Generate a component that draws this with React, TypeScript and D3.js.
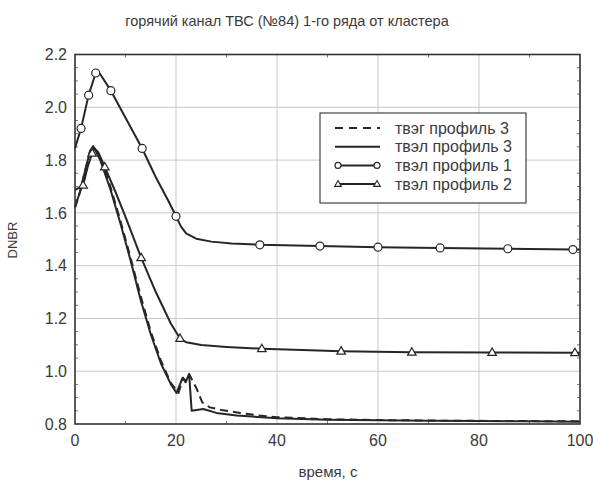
import React from "react";
import * as d3 from "d3";

const TITLE = "горячий канал ТВС (№84) 1-го ряда от кластера";
const X_LABEL = "время, с";
const Y_LABEL = "DNBR";
const X_TICKS = [0, 20, 40, 60, 80, 100];
const Y_TICKS = [0.8, 1.0, 1.2, 1.4, 1.6, 1.8, 2.0, 2.2];
const LEGEND_LABELS = ["твэг профиль 3", "твэл профиль 3", "твэл профиль 1", "твэл профиль 2"];

// твэг профиль 3 (dashed)
const cladTime = [0, 1, 2, 3, 3.7, 5, 7, 9, 11, 13, 15, 17, 19, 20.5, 21.4, 22, 22.7, 24.1, 25.2, 26.7, 29, 32.7, 36, 40, 50, 60, 70, 80, 90, 100];
const cladDnbr = [1.62, 1.68, 1.76, 1.835, 1.85, 1.81, 1.70, 1.57, 1.43, 1.285, 1.15, 1.04, 0.955, 0.918, 0.975, 0.962, 0.986, 0.933, 0.882, 0.863, 0.853, 0.842, 0.833, 0.826, 0.818, 0.815, 0.813, 0.812, 0.811, 0.81];

// твэл профиль 3 (solid)
const fuel3Time = [0, 1, 2, 3, 3.6, 5, 7, 9, 11, 13, 15, 17, 19, 20.1, 21.3, 21.9, 22.6, 23.1, 25.4, 28, 32, 40, 50, 60, 70, 80, 90, 100];
const fuel3Dnbr = [1.622, 1.68, 1.76, 1.835, 1.853, 1.80, 1.69, 1.56, 1.42, 1.27, 1.14, 1.03, 0.95, 0.918, 0.975, 0.958, 0.99, 0.85, 0.857, 0.842, 0.832, 0.822, 0.816, 0.814, 0.812, 0.811, 0.81, 0.809];

// твэл профиль 1 (circles)
const fuel1Time = [0, 1.2, 2.7, 4.1, 5, 7.1, 10, 13.3, 16, 18.5, 20, 21, 22, 24, 27, 31, 36.6, 48.5, 60, 72.3, 85.7, 98.6, 100];
const fuel1Dnbr = [1.845, 1.92, 2.046, 2.13, 2.125, 2.063, 1.96, 1.844, 1.735, 1.645, 1.587, 1.548, 1.522, 1.502, 1.491, 1.484, 1.479, 1.474, 1.470, 1.467, 1.464, 1.461, 1.461];
const fuel1MarkTime = [1.2, 2.7, 4.1, 7.1, 13.3, 20, 36.6, 48.5, 60, 72.3, 85.7, 98.6];
const fuel1MarkDnbr = [1.92, 2.046, 2.13, 2.063, 1.844, 1.587, 1.479, 1.474, 1.470, 1.467, 1.464, 1.461];

// твэл профиль 2 (triangles)
const fuel2Time = [0, 1.6, 2.6, 3.4, 3.8, 4.6, 5.9, 8, 10, 13.1, 16, 19, 20.8, 22, 25, 30, 37, 45, 52.7, 66.7, 82.6, 99, 100];
const fuel2Dnbr = [1.686, 1.705, 1.78, 1.826, 1.845, 1.83, 1.774, 1.68, 1.585, 1.43, 1.30, 1.18, 1.124, 1.11, 1.099, 1.092, 1.085, 1.08, 1.076, 1.072, 1.071, 1.07, 1.07];
const fuel2MarkTime = [1.6, 3.4, 5.9, 13.1, 20.8, 37, 52.7, 66.7, 82.6, 99];
const fuel2MarkDnbr = [1.705, 1.826, 1.774, 1.43, 1.124, 1.085, 1.076, 1.072, 1.071, 1.07];

const W = 593;
const H = 482;
const M = { left: 75, right: 580, top: 54.5, bottom: 424 };
const INK = "#262626";
const TXT = "#3a3a3a";
const FONT = "'Liberation Sans', Arial, sans-serif";

function zip(xs: number[], ys: number[]): [number, number][] {
  return xs.map((x, i) => [x, ys[i]]);
}

export default function App() {
  const x = d3.scaleLinear().domain([0, 100]).range([M.left, M.right]);
  const y = d3.scaleLinear().domain([0.8, 2.2]).range([M.bottom, M.top]);
  const line = d3.line<[number, number]>().x((d) => x(d[0])).y((d) => y(d[1]));

  const xMinor = d3.range(0, 101, 10).filter((v) => v % 20 !== 0);
  const yMinor = d3.range(0.8, 2.2001, 0.05).filter((v) => Math.abs(Math.round(v * 5) - v * 5) > 0.01);

  const tri = (cx: number, cy: number, s: number) =>
    `M${cx},${cy - s}L${cx + s * 0.95},${cy + s * 0.65}L${cx - s * 0.95},${cy + s * 0.65}Z`;

  const legX = 320, legY = 113, legW = 206, legH = 90;
  const rowY = [128, 146.7, 165.4, 184.1];
  const sx0 = 335, sx1 = 380;

  return (
    <svg width={W} height={H} style={{ position: "absolute", left: 0, top: 0, background: "#fff" }} fontFamily={FONT}>
      <rect x={0} y={0} width={W} height={H} fill="#fff" />
      <text x={287} y={26} textAnchor="middle" fontSize={14.5} fill={TXT}>{TITLE}</text>

      {/* grid */}
      {X_TICKS.slice(1, -1).map((t) => (
        <line key={"gx" + t} x1={x(t)} x2={x(t)} y1={M.top} y2={M.bottom} stroke="#c9c9c9" strokeWidth={1} />
      ))}
      {Y_TICKS.slice(1, -1).map((t) => (
        <line key={"gy" + t} x1={M.left} x2={M.right} y1={y(t)} y2={y(t)} stroke="#c9c9c9" strokeWidth={1} />
      ))}

      {/* minor ticks */}
      {xMinor.map((t) => (
        <g key={"mx" + t}>
          <line x1={x(t)} x2={x(t)} y1={M.bottom} y2={M.bottom - 3} stroke="#777" strokeWidth={1} />
          <line x1={x(t)} x2={x(t)} y1={M.top} y2={M.top + 3} stroke="#777" strokeWidth={1} />
        </g>
      ))}
      {yMinor.map((t) => (
        <g key={"my" + t}>
          <line x1={M.left} x2={M.left + 3} y1={y(t)} y2={y(t)} stroke="#777" strokeWidth={1} />
          <line x1={M.right} x2={M.right - 3} y1={y(t)} y2={y(t)} stroke="#777" strokeWidth={1} />
        </g>
      ))}

      {/* data */}
      <path d={line(zip(fuel1Time, fuel1Dnbr)) || ""} fill="none" stroke={INK} strokeWidth={2} strokeLinejoin="round" />
      <path d={line(zip(fuel2Time, fuel2Dnbr)) || ""} fill="none" stroke={INK} strokeWidth={2} strokeLinejoin="round" />
      <path d={line(zip(fuel3Time, fuel3Dnbr)) || ""} fill="none" stroke={INK} strokeWidth={2} strokeLinejoin="round" />
      <path d={line(zip(cladTime, cladDnbr)) || ""} fill="none" stroke={INK} strokeWidth={2} strokeDasharray="8,5" strokeLinejoin="round" />

      {fuel1MarkTime.map((t, i) => (
        <circle key={"c" + i} cx={x(t)} cy={y(fuel1MarkDnbr[i])} r={4} fill="#fff" stroke={INK} strokeWidth={1.2} />
      ))}
      {fuel2MarkTime.map((t, i) => (
        <path key={"t" + i} d={tri(x(t), y(fuel2MarkDnbr[i]), 4.5)} fill="#fff" stroke={INK} strokeWidth={1.2} />
      ))}

      {/* frame */}
      <rect x={M.left} y={M.top} width={M.right - M.left} height={M.bottom - M.top} fill="none" stroke="#333" strokeWidth={1.6} />

      {/* tick labels */}
      {X_TICKS.map((t) => (
        <text key={"xl" + t} x={x(t)} y={446} textAnchor="middle" fontSize={16} fill={TXT}>{t}</text>
      ))}
      {Y_TICKS.map((t) => (
        <text key={"yl" + t} x={67} y={y(t)} dy="0.36em" textAnchor="end" fontSize={16} fill={TXT}>{t.toFixed(1)}</text>
      ))}

      <text x={328} y={477} textAnchor="middle" fontSize={15} fill={TXT}>{X_LABEL}</text>
      <text transform={`translate(17,240) rotate(-90)`} textAnchor="middle" fontSize={13} fill={TXT}>{Y_LABEL}</text>

      {/* legend */}
      <rect x={legX} y={legY} width={legW} height={legH} fill="#fff" stroke="#444" strokeWidth={1.2} />
      <line x1={sx0} x2={sx1} y1={rowY[0]} y2={rowY[0]} stroke={INK} strokeWidth={2} strokeDasharray="8,6" />
      <line x1={sx0} x2={sx1} y1={rowY[1]} y2={rowY[1]} stroke={INK} strokeWidth={2} />
      <line x1={sx0 + 3} x2={sx1 - 3} y1={rowY[2]} y2={rowY[2]} stroke={INK} strokeWidth={2} />
      <circle cx={sx0 + 3} cy={rowY[2]} r={3} fill="#fff" stroke={INK} strokeWidth={1.1} />
      <circle cx={sx1 - 3} cy={rowY[2]} r={3} fill="#fff" stroke={INK} strokeWidth={1.1} />
      <line x1={sx0 + 3} x2={sx1 - 3} y1={rowY[3]} y2={rowY[3]} stroke={INK} strokeWidth={2} />
      <path d={tri(sx0 + 3, rowY[3], 3.5)} fill="#fff" stroke={INK} strokeWidth={1.1} />
      <path d={tri(sx1 - 3, rowY[3], 3.5)} fill="#fff" stroke={INK} strokeWidth={1.1} />
      {LEGEND_LABELS.map((l, i) => (
        <text key={"lg" + i} x={395} y={rowY[i]} dy="0.36em" fontSize={16} fill={TXT}>{l}</text>
      ))}
    </svg>
  );
}
